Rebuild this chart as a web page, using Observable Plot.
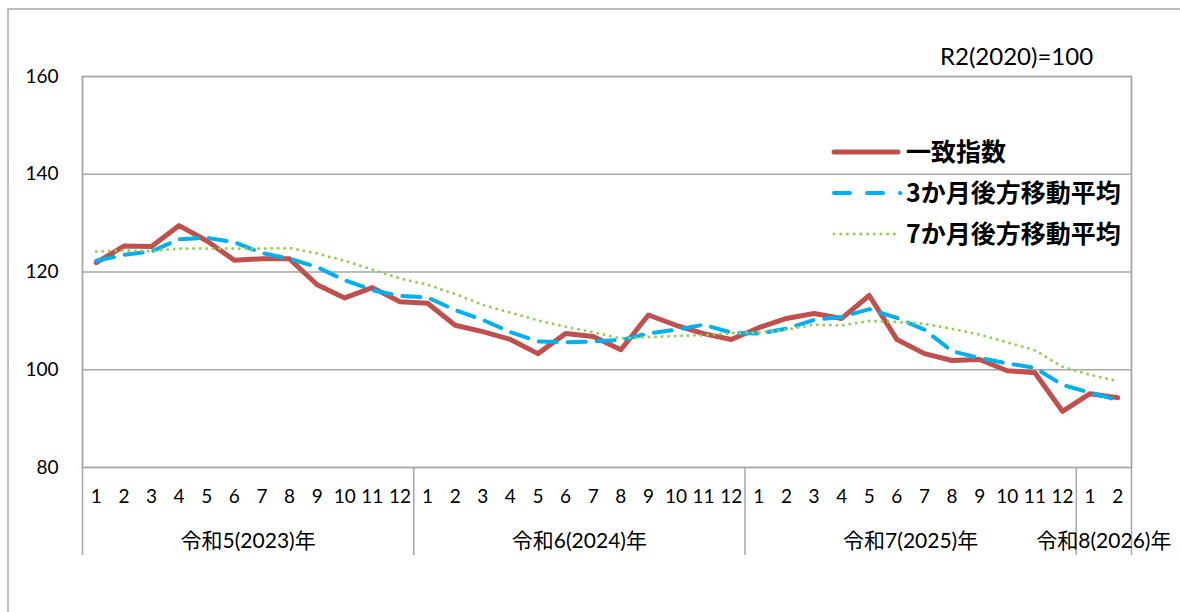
<!DOCTYPE html>
<html>
<head>
<meta charset="utf-8">
<script src="https://cdn.jsdelivr.net/npm/d3@7"></script>
<script src="https://cdn.jsdelivr.net/npm/@observablehq/plot@0.6"></script>
<style>
  html, body { margin: 0; padding: 0; background: #fff; }
  #chart svg { display: block; }
</style>
</head>
<body>
<div id="chart"></div>
<script>
// Months (x categories)
const months = [1,2,3,4,5,6,7,8,9,10,11,12, 1,2,3,4,5,6,7,8,9,10,11,12, 1,2,3,4,5,6,7,8,9,10,11,12, 1,2];
const eraLabels = ["令和5(2023)年", "令和6(2024)年", "令和7(2025)年", "令和8(2026)年"];
// 一致指数
const coincident = [121.9,125.3,125.2,129.5,126.4,122.4,122.7,122.7,117.4,114.7,116.8,113.9,
                    113.6,109.1,107.8,106.2,103.3,107.4,106.8,104.1,111.2,109.1,107.4,106.2,
                    108.6,110.5,111.5,110.5,115.2,106.2,103.3,101.9,102.1,99.8,99.4,91.5,
                    95.1,94.3];
// 3か月後方移動平均
const ma3 = [122.3,123.5,124.2,126.7,127.0,126.1,123.9,122.7,121.0,118.3,116.3,115.1,
             114.8,112.2,110.2,107.7,105.8,105.6,105.8,106.1,107.4,108.2,109.2,107.6,
             107.4,108.4,110.2,110.8,112.4,110.6,108.2,103.8,102.4,101.3,100.4,96.9,
             95.3,93.8];
// 7か月後方移動平均
const ma7 = [124.2,124.4,124.3,124.8,124.8,124.8,124.8,124.9,123.8,122.3,120.5,118.7,
             117.4,115.5,113.3,111.7,110.1,108.8,107.7,106.4,106.7,106.9,107.1,107.5,
             107.6,108.2,109.2,109.1,110.0,109.8,109.4,108.4,107.2,105.6,104.0,100.6,
             99.0,97.7];
const yTicks = [80, 100, 120, 140, 160];
const gridValues = [100, 120, 140];
const seriesNames = ["一致指数", "3か月後方移動平均", "7か月後方移動平均"];
const baseNote = "R2(2020)=100";

// Build table
let era = -1;
const data = months.map((m, i) => {
  if (m === 1 || i === 0) era++;
  return {i, m, era, c: coincident[i], a3: ma3[i], a7: ma7[i]};
});
const groups = eraLabels.map((label, k) => {
  const rows = data.filter(d => d.era === k);
  return {label, first: rows[0].i, last: rows[rows.length - 1].i, center: (rows[0].i + rows[rows.length - 1].i) / 2};
});
const boundaries = [-0.5, ...groups.map(g => g.last + 0.5)];

const gray = "#a6a6a6";
const font = "Lato, 'Noto Sans CJK JP', sans-serif";

const svg = Plot.plot({
  width: 1180,
  height: 612,
  marginLeft: 82,
  marginRight: 49,
  marginTop: 76,
  marginBottom: 145,
  x: {type: "linear", domain: [-0.5, months.length - 0.5], axis: null},
  y: {domain: [80, 160], axis: null},
  style: {fontFamily: font, background: "transparent", color: "#000", overflow: "visible"},
  marks: [
    Plot.ruleY(gridValues, {stroke: gray, strokeWidth: 1.5}),
    Plot.frame({stroke: gray, strokeWidth: 1.8}),
    Plot.ruleX(boundaries, {x: d => d, y1: 80, y2: 62, stroke: gray, strokeWidth: 1.5}),
    Plot.axisY(yTicks, {tickSize: 0, tickPadding: 24, fontSize: 19, fill: "#000"}),
    Plot.axisX(data.map(d => d.i), {tickSize: 0, tickPadding: 22, fontSize: 19, fill: "#000", tickFormat: i => String(months[i])}),
    Plot.text(groups, {x: "center", text: "label", frameAnchor: "bottom", dy: 80, fontSize: 21, fill: "#000"}),
    Plot.line(data, {x: "i", y: "c", stroke: "#c0504d", strokeWidth: 5, strokeLinejoin: "round"}),
    Plot.line(data, {x: "i", y: "a3", stroke: "#00b0f0", strokeWidth: 4, strokeDasharray: "18,11"}),
    Plot.line(data, {x: "i", y: "a7", stroke: "#92d050", strokeWidth: 3, strokeDasharray: "0,6.5", strokeLinecap: "round"})
  ]
});

const s = d3.select(svg);
// outer frame
s.insert("rect", ":first-child")
  .attr("x", 8).attr("y", 9).attr("width", 1300).attr("height", 700)
  .attr("fill", "none").attr("stroke", gray).attr("stroke-width", 1.5);

// base note
s.append("text").attr("x", 940).attr("y", 57).attr("dy", "0.35em")
  .attr("text-anchor", "start")
  .attr("font-family", font).attr("font-size", 24).attr("fill", "#000").text(baseNote);

// legend
const legendStyles = [
  {stroke: "#c0504d", width: 5, dash: null, cap: "round", x2: 898},
  {stroke: "#00b0f0", width: 4, dash: "16,17", cap: "round", x2: 900.5},
  {stroke: "#92d050", width: 3, dash: "0,6.7", cap: "round", x2: 898}
];
const lg = s.append("g").attr("text-anchor", "start");
seriesNames.forEach((name, k) => {
  const y = 152 + k * 41;
  const st = legendStyles[k];
  const ln = lg.append("line").attr("x1", 834).attr("x2", st.x2).attr("y1", y).attr("y2", y)
    .attr("fill", "none")
    .attr("stroke", st.stroke).attr("stroke-width", st.width).attr("stroke-linecap", st.cap);
  if (st.dash) ln.attr("stroke-dasharray", st.dash);
  lg.append("text").attr("x", 906).attr("y", y).attr("dy", "0.36em")
    .attr("text-anchor", "start")
    .attr("font-family", "'Noto Sans CJK JP', sans-serif").attr("font-weight", "bold")
    .attr("font-size", 25).attr("fill", "#000").text(name);
});

document.getElementById("chart").appendChild(svg);
</script>
</body>
</html>
